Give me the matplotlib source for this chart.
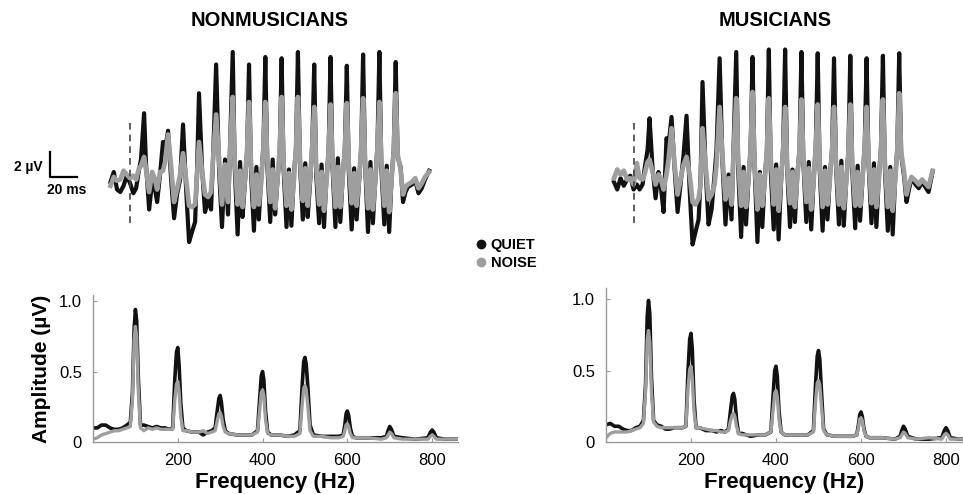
import numpy as np
import matplotlib
matplotlib.use("Agg")
import matplotlib.pyplot as plt
from matplotlib.lines import Line2D

plt.rcParams['font.family'] = ['Liberation Sans', 'DejaVu Sans']

# ---------------- time-domain responses (ms, uV) ----------------
t_ms = [-12, -10, -8, -6, -4, -2, 0, 2,
        3.7, 5.5, 6.7, 8.6, 9.8, 11.7, 13.5, 15.3, 16.6, 18.4,
        20.2, 21.5, 23.3, 25.2, 27.0, 28.8, 30.7, 32.5, 34.4, 36.2,
        38.0, 39.9, 41.1, 42.3, 44.2, 46.0, 47.9, 49.7, 50.9, 52.8,
        54.6, 56.4, 58.3, 60.1, 61.3,
        63, 64.2, 66, 67.5, 69, 70.5, 71.8,
        73, 74.2, 76, 77.5, 79, 80.5, 81.8,
        83, 84.2, 86, 87.5, 89, 90.5, 91.8,
        93, 94.2, 96, 97.5, 99, 100.5, 101.8,
        103, 104.2, 106, 107.5, 109, 110.5, 111.8,
        113, 114.2, 116, 117.5, 119, 120.5, 121.8,
        123, 124.2, 126, 127.5, 129, 130.5, 131.8,
        133, 134.2, 136, 137.5, 139, 140.5, 141.8,
        143, 144.2, 146, 147.5, 149, 150.5, 151.8,
        153, 154.2, 156, 157.5, 159, 160.5, 161.8,
        163, 164.2, 166, 167.5, 169, 170.5, 173, 175, 177, 179, 181, 183.5]

nonmus_quiet = [0.0, 0.8, -0.6, -0.8, -0.3, 0.5, -0.1, -0.9,
                -0.5, 1.0, 1.8, 5.5, 1.4, -2.2, 0.0, -0.6, -1.6, 0.6,
                3.2, 2.6, 4.1, 0.2, -2.9, -1.0, 0.2, 4.6, -0.6, -4.8,
                -4.0, -3.2, 1.0, 7.1, 1.0, -2.4, -1.4, -2.2, 1.8, 9.4,
                1.0, -3.6, 1.8, -2.6, 2.6,
                10.4, 1.2, -4.2, 1.6, -2.8, 0.0, 2.4,
                9.4, 0.8, -3.9, 1.2, -3.0, 0.4, 2.8,
                10.0, 1.4, -3.2, 1.8, -2.6, 0.2, 2.2,
                9.9, 1.0, -3.6, 1.0, -3.5, 0.6, 2.6,
                10.4, 1.6, -3.0, 1.5, -2.8, 0.0, 3.0,
                9.4, 0.6, -3.3, 1.4, -3.6, 0.3, 2.4,
                10.0, 1.2, -3.6, 1.9, -3.2, 0.5, 2.7,
                9.3, 0.9, -3.8, 1.1, -3.0, 0.0, 2.5,
                10.2, 1.5, -4.0, 1.6, -3.3, 0.2, 2.9,
                10.4, 1.1, -3.4, 1.3, -4.0, 0.4, 2.6,
                9.6, 2.0, 1.2, -1.6, -0.8, -0.4, -0.2, 0.1, -0.9, -0.5, 0.2, 0.9]

nonmus_noise = [-0.3, 0.4, 0.1, 0.2, 0.9, 0.6, 0.3, 0.5,
                0.2, 1.1, 1.3, 2.0, 1.0, -0.8, 0.8, 0.2, -0.6, 0.8,
                0.9, 1.6, 3.8, 1.2, -1.6, -0.6, 0.6, 2.3, 0.2, -1.9,
                -2.0, -1.8, 0.5, 3.2, 0.8, -1.0, -1.2, -0.8, 1.8, 5.4,
                1.8, -1.8, 1.4, -1.6, 2.5,
                6.8, 1.8, -1.8, 0.9, -2.0, 0.2, 2.6,
                6.4, 1.5, -2.0, 0.6, -1.8, 0.0, 2.8,
                6.4, 1.9, -1.6, 1.0, -2.1, 0.3, 2.5,
                6.8, 1.6, -1.9, 0.7, -2.2, 0.1, 2.7,
                6.8, 2.0, -1.5, 1.1, -1.9, 0.4, 2.9,
                6.0, 1.4, -1.8, 0.8, -2.3, 0.0, 2.4,
                6.2, 1.7, -2.0, 1.2, -2.0, 0.3, 2.6,
                6.3, 1.5, -1.7, 0.7, -1.9, 0.2, 2.8,
                6.7, 1.8, -2.1, 1.0, -2.2, 0.1, 2.7,
                6.4, 1.6, -1.9, 0.9, -2.4, 0.3, 2.5,
                7.1, 2.2, 1.0, -1.0, -0.4, -0.2, 0.0, 0.3, -0.5, -0.1, 0.4, 0.8]

mus_quiet = [0.0, -0.6, 0.3, -0.3, 0.2, 0.5, -0.6, -0.2,
             -0.6, -0.2, 1.0, 2.6, 5.1, 1.0, -1.3, 0.8, -0.2, -2.4,
             3.5, 3.0, 5.2, 1.0, -2.4, -0.2, 2.2, 5.3, -0.6, -5.0,
             -4.0, -3.0, 0.2, 8.0, 1.0, -3.4, -2.2, 0.6, 2.6, 9.9,
             1.4, -3.4, 0.6, -3.0, 2.6,
             10.4, 1.0, -4.4, 1.2, -3.4, 0.2, 2.6,
             10.0, 1.4, -4.8, 0.8, -3.6, 0.4, 2.4,
             10.6, 0.8, -3.8, 1.4, -4.6, 0.0, 2.8,
             10.6, 1.2, -3.6, 1.0, -3.2, 0.6, 2.5,
             10.4, 1.5, -3.2, 1.6, -3.8, 0.2, 2.9,
             10.3, 1.0, -3.9, 1.2, -3.0, 0.5, 2.6,
             9.9, 1.3, -3.4, 1.7, -3.5, 0.1, 2.4,
             10.1, 0.9, -3.7, 1.3, -3.1, 0.3, 2.8,
             9.9, 1.4, -3.3, 1.5, -3.6, 0.4, 2.7,
             10.1, 1.1, -3.9, 1.2, -4.2, 0.2, 2.6,
             10.3, 2.2, 0.4, -1.6, -0.6, 0.3, -0.2, -0.5, 0.0, -0.4, -0.8, 0.8]

mus_noise = [0.3, 1.0, 0.6, 0.9, 0.2, 0.3, -0.2, 1.5,
             0.3, 0.2, 0.6, 1.6, 1.8, 0.8, -0.2, 0.6, 0.3, -0.6,
             0.6, 1.8, 4.3, 1.4, -1.0, 0.2, 1.4, 2.0, 0.6, -1.6,
             -1.8, -1.3, -0.2, 4.3, 1.4, -1.4, -1.0, -0.2, 1.4, 6.0,
             1.9, -1.4, 0.3, -1.8, 2.2,
             6.7, 1.8, -1.9, 0.8, -2.0, 0.3, 2.6,
             7.2, 1.6, -2.2, 0.6, -1.9, 0.1, 2.5,
             6.7, 1.9, -1.8, 1.0, -2.3, 0.2, 2.7,
             6.0, 1.5, -1.7, 0.8, -2.0, 0.4, 2.5,
             6.6, 1.8, -1.6, 1.1, -2.2, 0.2, 2.8,
             6.2, 1.6, -2.0, 0.9, -1.8, 0.3, 2.6,
             6.0, 1.7, -1.8, 1.2, -2.1, 0.0, 2.4,
             6.2, 1.5, -1.9, 0.8, -1.9, 0.3, 2.7,
             6.0, 1.8, -1.7, 1.0, -2.0, 0.2, 2.6,
             6.6, 1.6, -2.0, 0.9, -2.3, 0.1, 2.5,
             7.1, 2.4, 0.8, -1.0, -0.2, 0.4, 0.1, -0.2, 0.2, -0.1, -0.4, 0.9]

# ---------------- spectra (Hz, uV) ----------------
freq_hz = [0, 10, 20, 30, 40, 50, 60, 70, 80, 88,
           93, 97, 100, 103, 107, 112,
           120, 130, 140, 150, 160, 170, 180, 188,
           193, 197, 200, 203, 207, 212,
           220, 235, 250, 260, 270, 280, 288,
           293, 297, 300, 303, 307, 312,
           320, 340, 360, 375, 388,
           393, 397, 400, 403, 407, 412,
           420, 440, 460, 475, 488,
           493, 497, 500, 503, 507, 512,
           520, 540, 560, 580, 590,
           594, 597, 600, 603, 607, 612,
           620, 650, 680, 692,
           696, 700, 704, 710,
           730, 760, 790,
           796, 800, 804, 810,
           830, 861]

spec_nonmus_quiet = [0.10, 0.10, 0.12, 0.12, 0.10, 0.09, 0.09, 0.10, 0.12, 0.14,
                     0.35, 0.80, 0.94, 0.86, 0.45, 0.12,
                     0.12, 0.11, 0.10, 0.11, 0.10, 0.10, 0.09, 0.10,
                     0.45, 0.64, 0.67, 0.55, 0.28, 0.10,
                     0.08, 0.07, 0.07, 0.05, 0.07, 0.08, 0.10,
                     0.22, 0.31, 0.33, 0.28, 0.16, 0.08,
                     0.06, 0.05, 0.05, 0.05, 0.08,
                     0.30, 0.47, 0.50, 0.44, 0.22, 0.07,
                     0.05, 0.05, 0.04, 0.05, 0.08,
                     0.38, 0.57, 0.60, 0.55, 0.38, 0.12,
                     0.05, 0.04, 0.04, 0.04, 0.05,
                     0.12, 0.20, 0.22, 0.19, 0.10, 0.04,
                     0.03, 0.03, 0.03, 0.04,
                     0.08, 0.11, 0.09, 0.04,
                     0.03, 0.02, 0.03,
                     0.07, 0.085, 0.07, 0.03,
                     0.02, 0.02]

spec_nonmus_noise = [0.02, 0.03, 0.05, 0.06, 0.07, 0.08, 0.08, 0.09, 0.10, 0.11,
                     0.30, 0.72, 0.82, 0.75, 0.35, 0.10,
                     0.08, 0.10, 0.09, 0.10, 0.09, 0.09, 0.09, 0.09,
                     0.30, 0.41, 0.43, 0.36, 0.18, 0.08,
                     0.08, 0.07, 0.07, 0.08, 0.06, 0.07, 0.08,
                     0.15, 0.20, 0.21, 0.18, 0.11, 0.07,
                     0.06, 0.05, 0.05, 0.05, 0.07,
                     0.22, 0.35, 0.37, 0.33, 0.16, 0.06,
                     0.05, 0.05, 0.04, 0.04, 0.06,
                     0.25, 0.38, 0.40, 0.37, 0.25, 0.08,
                     0.04, 0.04, 0.03, 0.03, 0.04,
                     0.08, 0.12, 0.13, 0.11, 0.06, 0.03,
                     0.03, 0.03, 0.02, 0.03,
                     0.05, 0.07, 0.06, 0.03,
                     0.02, 0.02, 0.02,
                     0.04, 0.05, 0.04, 0.02,
                     0.02, 0.02]

spec_mus_quiet = [0.12, 0.13, 0.11, 0.11, 0.09, 0.08, 0.08, 0.10, 0.11, 0.15,
                  0.40, 0.88, 0.99, 0.90, 0.45, 0.15,
                  0.12, 0.11, 0.09, 0.09, 0.10, 0.10, 0.10, 0.11,
                  0.50, 0.72, 0.76, 0.65, 0.30, 0.10,
                  0.10, 0.08, 0.08, 0.07, 0.08, 0.07, 0.09,
                  0.22, 0.32, 0.34, 0.30, 0.16, 0.06,
                  0.06, 0.04, 0.05, 0.05, 0.07,
                  0.32, 0.50, 0.53, 0.46, 0.22, 0.07,
                  0.05, 0.05, 0.05, 0.05, 0.08,
                  0.40, 0.60, 0.64, 0.58, 0.35, 0.09,
                  0.05, 0.04, 0.04, 0.04, 0.05,
                  0.12, 0.19, 0.21, 0.18, 0.09, 0.04,
                  0.03, 0.03, 0.02, 0.04,
                  0.08, 0.11, 0.09, 0.04,
                  0.02, 0.02, 0.03,
                  0.08, 0.10, 0.08, 0.03,
                  0.02, 0.02]

spec_mus_noise = [0.03, 0.06, 0.07, 0.07, 0.07, 0.07, 0.08, 0.09, 0.10, 0.13,
                  0.35, 0.72, 0.78, 0.70, 0.35, 0.14,
                  0.11, 0.10, 0.10, 0.10, 0.10, 0.10, 0.10, 0.11,
                  0.38, 0.51, 0.53, 0.45, 0.22, 0.10,
                  0.10, 0.09, 0.08, 0.08, 0.07, 0.07, 0.08,
                  0.15, 0.19, 0.20, 0.18, 0.11, 0.06,
                  0.05, 0.05, 0.05, 0.05, 0.07,
                  0.22, 0.34, 0.36, 0.32, 0.16, 0.07,
                  0.05, 0.05, 0.05, 0.05, 0.07,
                  0.28, 0.41, 0.43, 0.40, 0.25, 0.08,
                  0.05, 0.04, 0.04, 0.04, 0.05,
                  0.10, 0.16, 0.17, 0.15, 0.08, 0.04,
                  0.03, 0.03, 0.02, 0.03,
                  0.05, 0.07, 0.06, 0.03,
                  0.02, 0.03, 0.02,
                  0.05, 0.06, 0.05, 0.02,
                  0.02, 0.02]

titles = ["NONMUSICIANS", "MUSICIANS"]
legend_labels = ["QUIET", "NOISE"]
freq_ticks = [200, 400, 600, 800]
amp_ticks = [0, 0.5, 1.0]
amp_ticklabels = ["0", "0.5", "1.0"]

BLACK = "#111111"
GRAY = "#9e9e9e"
AXGRAY = "#9a9a9a"

W, H = 963, 494
fig = plt.figure(figsize=(W / 100, H / 100), dpi=100)


def px_axes(x0, y0, x1, y1):
    # pixel box (left, top, right, bottom) -> axes
    return fig.add_axes([x0 / W, 1 - y1 / H, (x1 - x0) / W, (y1 - y0) / H])


def fx(x):
    return x / W


def fy(y):
    return 1 - y / H


# waveforms
wave_boxes = [(104, 38.25, 439.7, 257), (607.5, 38.25, 943.2, 257)]
wave_data = [(nonmus_quiet, nonmus_noise), (mus_quiet, mus_noise)]
title_x = [270, 775]
for box, (q, n), title, tx in zip(wave_boxes, wave_data, titles, title_x):
    ax = px_axes(*box)
    ax.plot(t_ms, q, color=BLACK, lw=3.0, solid_joinstyle='round')
    ax.plot(t_ms, n, color=GRAY, lw=3.4, solid_joinstyle='round')
    ax.plot([0, 0], [-3.3, 5.0], color="#444444", lw=1.2, dashes=(4, 3))
    ax.set_xlim(-16, 190)
    ax.set_ylim(-6, 11.5)
    ax.axis('off')
    fig.text(fx(tx), fy(21), title, ha='center', va='center',
             fontsize=14.5, fontweight='bold')

# scale bar
fig.add_artist(Line2D([fx(49.5), fx(49.5), fx(77)], [fy(152), fy(177), fy(177)],
                      color='black', lw=1.6, transform=fig.transFigure))
fig.text(fx(43), fy(167), "2 µV", ha='right', va='center', fontsize=10, fontweight='bold')
fig.text(fx(67), fy(190), "20 ms", ha='center', va='center', fontsize=10, fontweight='bold')

# spectra
spec_boxes = [(93, 295.4, 458, 442), (606, 287.6, 963, 442)]
spec_data = [(spec_nonmus_quiet, spec_nonmus_noise), (spec_mus_quiet, spec_mus_noise)]
spec_ylim = [1.04, 1.08]
spec_xlim = [861, 840]
for i, (box, (q, n)) in enumerate(zip(spec_boxes, spec_data)):
    ax = px_axes(*box)
    ax.plot(freq_hz, q, color=BLACK, lw=2.6)
    ax.plot(freq_hz, n, color=GRAY, lw=2.4)
    ax.set_xlim(0, spec_xlim[i])
    ax.set_ylim(0, spec_ylim[i])
    ax.set_xticks(freq_ticks)
    ax.set_yticks(amp_ticks)
    ax.set_yticklabels(amp_ticklabels)
    for s in ['top', 'right']:
        ax.spines[s].set_visible(False)
    for s in ['left', 'bottom']:
        ax.spines[s].set_color(AXGRAY)
        ax.spines[s].set_linewidth(1.0)
    ax.tick_params(direction='in', length=3, color=AXGRAY, labelsize=12, pad=8)
    ax.set_xlabel("Frequency (Hz)", fontsize=16, fontweight='bold', labelpad=3)
    if i == 0:
        ax.set_ylabel("Amplitude (µV)", fontsize=15, fontweight='bold', labelpad=6)

# legend
handles = [Line2D([], [], marker='o', linestyle='none', color=BLACK, markersize=6),
           Line2D([], [], marker='o', linestyle='none', color=GRAY, markersize=6)]
fig.legend(handles, legend_labels, loc='center', bbox_to_anchor=(fx(505), fy(254)),
           frameon=False, handletextpad=0.15, labelspacing=0.3, handlelength=1.0,
           prop={'weight': 'bold', 'size': 10.5})

fig.savefig("out.png", dpi=100)
